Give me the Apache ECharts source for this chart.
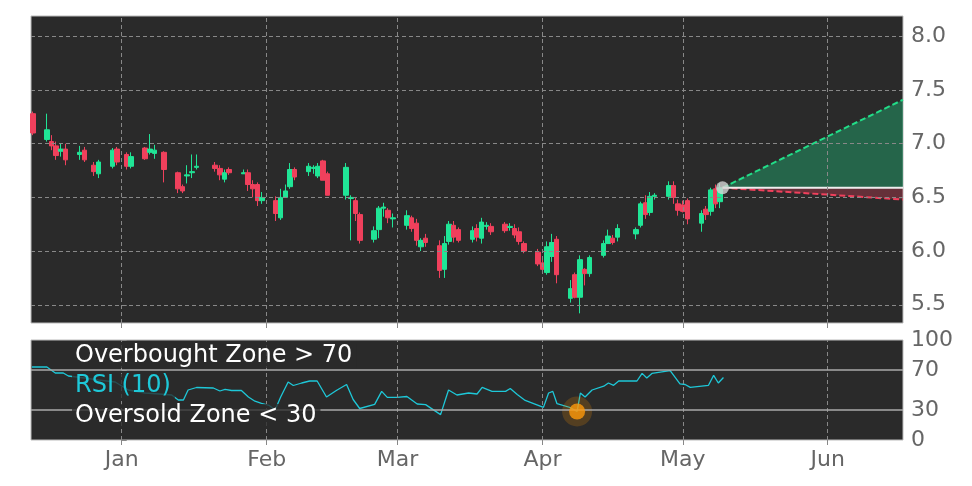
<!DOCTYPE html>
<html><head><meta charset="utf-8">
<script src="https://cdn.jsdelivr.net/npm/echarts@6/dist/echarts.min.js"></script>
<style>html,body{margin:0;background:#fff}#c{width:972px;height:486px}</style>
</head><body><div id="c"></div>
<script>
// day offsets from Jan 1
const monthDays = [0, 31, 59, 90, 120, 151];
const monthNames = ['Jan', 'Feb', 'Mar', 'Apr', 'May', 'Jun'];
const priceTicks = [5.5, 6.0, 6.5, 7.0, 7.5, 8.0];
const rsiTicks = [0, 30, 70, 100];
const candleDays = [-19,-16,-15,-14,-13,-12,-9,-8,-6,-5,-2,-1,1,2,5,6,7,9,12,13,14,15,16,20,21,22,23,26,27,28,29,30,33,34,35,36,37,40,41,42,43,44,48,49,50,51,54,55,56,57,58,61,62,63,64,65,68,69,70,71,72,75,76,77,78,79,82,83,84,85,86,89,90,91,92,93,96,97,98,99,100,103,104,105,106,110,111,112,113,114,117,118,119,120,121,124,125,126,127,128];
const opens = [7.28,7.04,7.02,6.98,6.93,6.95,6.90,6.94,6.80,6.72,6.79,6.95,6.90,6.79,6.96,6.92,6.91,6.92,6.73,6.60,6.70,6.73,6.78,6.80,6.77,6.67,6.76,6.72,6.73,6.62,6.62,6.47,6.47,6.31,6.50,6.60,6.76,6.74,6.77,6.70,6.84,6.72,6.52,6.49,6.47,6.34,6.11,6.20,6.40,6.38,6.30,6.24,6.31,6.26,6.04,6.12,6.05,5.83,6.09,6.24,6.20,6.11,6.21,6.12,6.23,6.23,6.25,6.22,6.21,6.18,6.07,5.99,5.89,5.80,5.95,6.11,5.56,5.78,5.57,5.83,5.79,5.96,6.07,6.12,6.13,6.16,6.24,6.45,6.36,6.51,6.51,6.61,6.44,6.43,6.47,6.26,6.39,6.37,6.58,6.46];
const closes = [7.10,7.13,6.98,6.89,6.95,6.85,6.92,6.85,6.74,6.83,6.94,6.83,6.79,6.88,6.86,6.95,6.94,6.76,6.58,6.56,6.71,6.74,6.79,6.77,6.71,6.73,6.73,6.73,6.62,6.58,6.47,6.50,6.35,6.50,6.56,6.76,6.69,6.79,6.78,6.79,6.66,6.52,6.78,6.50,6.35,6.10,6.19,6.40,6.41,6.31,6.31,6.33,6.21,6.10,6.10,6.08,5.82,6.07,6.25,6.13,6.10,6.19,6.13,6.27,6.24,6.18,6.19,6.23,6.15,6.09,6.00,5.88,5.83,6.04,6.08,5.78,5.65,5.57,5.92,5.79,5.94,6.07,6.14,6.08,6.21,6.20,6.44,6.34,6.51,6.52,6.61,6.50,6.38,6.37,6.30,6.35,6.34,6.57,6.44,6.59];
const lows = [7.08,7.02,6.94,6.85,6.88,6.80,6.85,6.83,6.70,6.68,6.77,6.80,6.76,6.77,6.85,6.90,6.86,6.64,6.54,6.54,6.63,6.68,6.76,6.74,6.66,6.64,6.71,6.72,6.56,6.50,6.42,6.44,6.28,6.29,6.50,6.58,6.66,6.70,6.72,6.68,6.66,6.52,6.48,6.10,6.28,6.07,6.08,6.12,6.32,6.26,6.22,6.20,6.18,6.05,6.00,6.04,5.75,5.75,6.06,6.08,6.08,6.08,6.09,6.07,6.20,6.15,6.17,6.19,6.12,6.06,5.98,5.86,5.79,5.78,5.90,5.70,5.52,5.56,5.42,5.68,5.76,5.94,6.07,6.06,6.09,6.11,6.22,6.30,6.33,6.48,6.48,6.44,6.33,6.36,6.25,6.18,6.29,6.33,6.40,6.40];
const highs = [7.30,7.28,7.08,7.02,7.00,7.00,6.98,6.97,6.83,6.85,6.96,6.97,6.92,6.92,6.97,7.09,6.99,6.93,6.74,6.62,6.80,6.90,6.90,6.83,6.80,6.76,6.78,6.76,6.76,6.66,6.64,6.55,6.51,6.58,6.62,6.82,6.78,6.82,6.80,6.82,6.85,6.74,6.82,6.52,6.50,6.36,6.23,6.42,6.45,6.40,6.35,6.38,6.33,6.30,6.12,6.16,6.10,6.14,6.28,6.28,6.22,6.23,6.25,6.31,6.27,6.26,6.27,6.26,6.25,6.22,6.09,6.02,5.92,6.09,6.16,6.14,5.73,5.80,5.96,5.84,5.96,6.10,6.20,6.15,6.25,6.22,6.46,6.52,6.55,6.54,6.65,6.65,6.48,6.47,6.49,6.38,6.42,6.59,6.62,6.63];
const rsiDays = [-19.2,-16,-14.2,-12.5,-11.4,-8,-5,-1.4,1.4,5,8,10.7,12.1,13.2,14.2,16,19.6,21,22.1,23.5,25.6,27.1,28.5,29.9,31.5,32.8,34,35.6,36.7,38.5,40.2,41.8,43.8,45.9,48.1,49.5,50.9,54.1,55.6,56.8,58.9,61,63.2,65,68.2,69.9,71.7,74.2,76,77.1,79.2,82.1,83.1,84.6,86.3,90.2,91.3,92.2,93.1,95.9,97.4,98.1,99.1,100.6,103.1,104.1,105.2,106.3,110.2,111.3,112.3,113.4,117.3,119.4,120.5,121.6,125.5,126.6,127.6,128.7];
const rsiValues = [73,73,67,67,64,62,60,58,50,47,46,45,40,40,50,52.5,52,49,50.6,49.5,49.5,43,38.8,36.6,34.7,30,43,58,54.5,57,59,59,43,49.5,55.5,40.5,31.5,35.6,48.6,42.6,42.6,43.5,36,35.4,25.4,50,45,47,46,52.6,48.6,48.6,51.5,45.5,39.6,32.6,47,48.6,36.3,32.5,28.5,47,43,50,53.8,57,54.7,59,59,66.6,62,66.6,69.3,56.2,55.5,52.6,54.7,64.6,57,62.5];
const oversoldPoint = [97.4, 28.5];
const forecastStart = [128.5, 6.59];
const forecastEnd = 167.1;
const forecastUp = 7.41;
const forecastDown = 6.48;

const xMin = -19.4, xMax = 167.1;
const candles = candleDays.map((d, i) => [d, opens[i], closes[i], lows[i], highs[i]]);
const rsiLine = rsiDays.map((d, i) => [d, rsiValues[i]]);
const GREEN = '#20e596', RED = '#f0405c', BG = '#2a2a2a';
const labelFmt = v => { const i = monthDays.indexOf(v); return i >= 0 ? monthNames[i] : ''; };
const vLines = monthDays.map(d => ({ xAxis: d }));

const chart = echarts.init(document.getElementById('c'), null, { renderer: 'canvas' });
const poly = (pts, color) => ({
  type: 'custom', xAxisIndex: 0, yAxisIndex: 0, silent: true, z: 1,
  data: [0],
  renderItem: (p, api) => ({
    type: 'polygon',
    shape: { points: pts.map(q => api.coord(q)) },
    style: { fill: color }
  })
});
const txt = (text, top, color) => ({ type: 'text', left: 72, top, z: 51,
  style: { text, fill: color, fontSize: 24, fontFamily: 'DejaVu Sans',
    backgroundColor: 'rgba(42,42,42,0.78)', padding: [0, 4, 0, 3] } });
chart.setOption({
  animation: false,
  backgroundColor: '#fff',
  grid: [
    { left: 31, right: 69, top: 16, height: 307, show: true, backgroundColor: BG, borderColor: '#bbb', borderWidth: 1 },
    { left: 31, right: 69, top: 340, height: 100, show: true, backgroundColor: BG, borderColor: '#bbb', borderWidth: 1 }
  ],
  xAxis: [
    { type: 'value', gridIndex: 0, min: xMin, max: xMax, axisLine: { show: false },
      axisLabel: { show: false }, splitLine: { show: false },
      axisTick: { show: true, customValues: monthDays, length: 5, lineStyle: { color: '#888' } } },
    { type: 'value', gridIndex: 1, min: xMin, max: xMax, axisLine: { show: false },
      splitLine: { show: false },
      axisTick: { show: true, customValues: monthDays, length: 5, lineStyle: { color: '#888' } },
      axisLabel: { customValues: monthDays, formatter: labelFmt, color: '#666', fontSize: 22, fontFamily: 'DejaVu Sans', margin: 9 } }
  ],
  yAxis: [
    { type: 'value', gridIndex: 0, position: 'right', min: 5.33, max: 8.19, axisLine: { show: false },
      splitLine: { show: false },
      axisTick: { show: true, customValues: priceTicks, length: 5, lineStyle: { color: '#888' } },
      axisLabel: { customValues: priceTicks, formatter: v => v.toFixed(1), color: '#666', fontSize: 22, fontFamily: 'DejaVu Sans', margin: 8 } },
    { type: 'value', gridIndex: 1, position: 'right', min: 0, max: 100, axisLine: { show: false },
      splitLine: { show: false },
      axisTick: { show: true, customValues: rsiTicks, length: 5, lineStyle: { color: '#888' } },
      axisLabel: { customValues: rsiTicks, color: '#666', fontSize: 22, fontFamily: 'DejaVu Sans', margin: 8 } }
  ],
  series: [
    poly([forecastStart, [forecastEnd, forecastUp], [forecastEnd, forecastStart[1]]], 'rgba(32,150,100,0.55)'),
    poly([forecastStart, [forecastEnd, forecastStart[1]], [forecastEnd, forecastDown]], 'rgba(240,64,92,0.3)'),
    { type: 'candlestick', xAxisIndex: 0, yAxisIndex: 0, data: candles, barWidth: 5,
      itemStyle: { color: GREEN, color0: RED, borderColor: GREEN, borderColor0: RED, borderWidth: 1 },
      markLine: { silent: true, symbol: 'none', label: { show: false },
        lineStyle: { color: '#888', type: [4, 3], width: 1 },
        data: vLines.concat(priceTicks.map(v => ({ yAxis: v }))) } },
    { type: 'line', xAxisIndex: 0, yAxisIndex: 0, data: [forecastStart, [forecastEnd, forecastUp]], symbol: 'none',
      lineStyle: { color: '#22dd88', width: 2, type: [6, 3] }, z: 3 },
    { type: 'line', xAxisIndex: 0, yAxisIndex: 0, data: [forecastStart, [forecastEnd, forecastDown]], symbol: 'none',
      lineStyle: { color: RED, width: 2, type: [6, 3] }, z: 3 },
    { type: 'line', xAxisIndex: 0, yAxisIndex: 0, data: [forecastStart, [forecastEnd, forecastStart[1]]], symbol: 'none',
      lineStyle: { color: '#eee', width: 2 }, z: 3 },
    { type: 'scatter', xAxisIndex: 0, yAxisIndex: 0, data: [forecastStart], symbolSize: 13,
      itemStyle: { color: '#d4d4d4' }, z: 5 },
    { type: 'line', xAxisIndex: 1, yAxisIndex: 1, data: rsiLine, symbol: 'none',
      lineStyle: { color: '#1ec8d8', width: 1.3 },
      markLine: { silent: true, symbol: 'none', label: { show: false },
        data: vLines.map(v => Object.assign({ lineStyle: { color: '#888', type: [4, 3], width: 1 } }, v))
          .concat([{ yAxis: 70, lineStyle: { color: '#aaa', type: 'solid', width: 1.5 } },
                   { yAxis: 30, lineStyle: { color: '#aaa', type: 'solid', width: 1.5 } }]) } },
    { type: 'scatter', xAxisIndex: 1, yAxisIndex: 1, data: [oversoldPoint], symbolSize: 30,
      itemStyle: { color: 'rgba(255,150,0,0.25)' }, z: 4 },
    { type: 'scatter', xAxisIndex: 1, yAxisIndex: 1, data: [oversoldPoint], symbolSize: 16,
      itemStyle: { color: '#ff9a0a' }, z: 5 }
  ],
  graphic: [
    txt('Overbought Zone > 70', 344, '#fff'),
    txt('RSI (10)', 374, '#1ec8d8'),
    txt('Oversold Zone < 30', 404, '#fff')
  ]
});
</script></body></html>
